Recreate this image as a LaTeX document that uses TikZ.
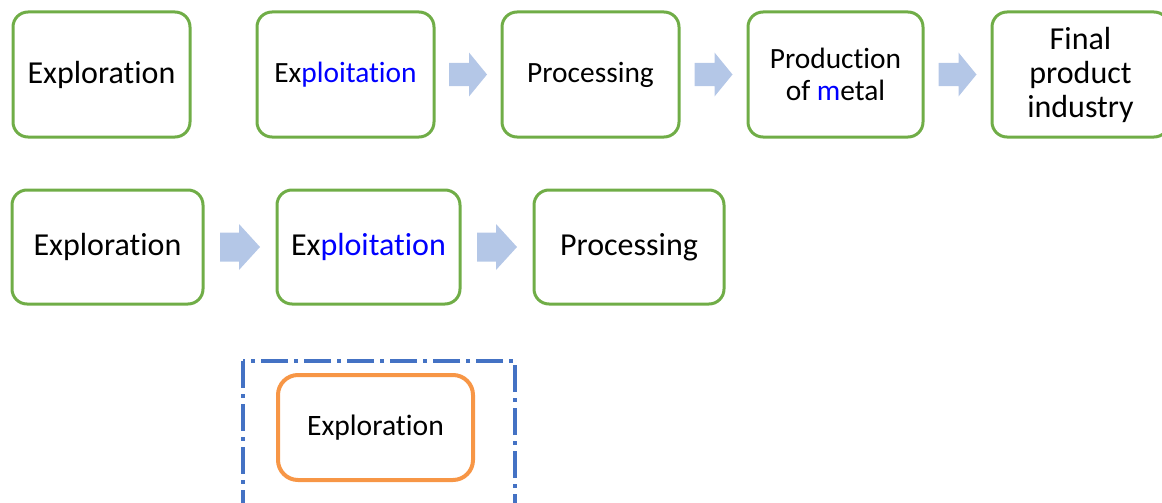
\documentclass[tikz,border=0pt]{standalone}
\usepackage{fontspec}
\setmainfont[Ligatures=NoCommon]{Carlito}
\usetikzlibrary{calc,positioning}
\definecolor{stagegreen}{HTML}{70AD47}
\definecolor{flowblue}{HTML}{B4C7E7}
\definecolor{frameblue}{HTML}{4472C4}
\definecolor{focusorange}{HTML}{F79646}

\begin{document}
\begin{tikzpicture}[x=1pt,y=-1pt,
        stage/.style={draw=stagegreen,line width=3pt,rounded corners=15pt,outer sep=0pt,
            minimum width=177pt,minimum height=125pt,align=center,
            font=\fontsize{29.4}{32}\selectfont},
        big/.style={font=\fontsize{32}{34}\selectfont},
        flow/.style={fill=flowblue},
        focus/.style={draw=focusorange,line width=4pt,rounded corners=20pt,outer sep=0pt,
            minimum width=195pt,minimum height=105pt,font=\fontsize{29.6}{32}\selectfont},
        frame/.style={draw=frameblue,line width=4pt,dash pattern=on 27pt off 6pt on 4pt off 6pt}]
    \useasboundingbox (0,0) rectangle (1162,503);
    % first row
    \node[stage,big] (e1) at (101.5,74.5) {Exploration};
    \node[stage,right=67pt of e1] (e2) {Ex{\color{blue}ploitation}};
    \node[stage,right=68pt of e2] (e3) {Processing};
    \node[stage,right=69pt of e3,minimum width=175pt] (e4) {Production\\of {\color{blue}m}etal};
    \node[stage,big,right=69pt of e4] (e5) {Final\\product\\industry};
    % second row
    \node[stage,big,minimum width=191pt,minimum height=114pt] (s1) at (107.5,247) {Exploration};
    \node[stage,big,minimum width=183pt,minimum height=114pt,right=74pt of s1] (s2) {Ex{\color{blue}ploitation}};
    \node[stage,big,minimum width=190pt,minimum height=114pt,right=74pt of s2] (s3) {Processing};
    % third row
    \node[focus] (f1) at (375.5,427.5) {Exploration};
    \draw[frame] ([xshift=-35pt,yshift=14pt]f1.north west) rectangle ([xshift=42pt,yshift=-40pt]f1.south east);
    % block arrows
    \foreach \a/\b in {e2/e3,e3/e4,e4/e5}
        \fill[flow] ($(\a.east)!0.5!(\b.west)$) ++(-19,-11.5) -- ++(20,0) -- ++(0,-10.5)
            -- ++(18,22) -- ++(-18,22) -- ++(0,-10.5) -- ++(-20,0) -- cycle;
    \foreach \a/\b in {s1/s2,s2/s3}
        \fill[flow] ($(\a.east)!0.5!(\b.west)$) ++(-20,-14.5) -- ++(19,0) -- ++(0,-8.5)
            -- ++(21,23) -- ++(-21,23) -- ++(0,-8.5) -- ++(-19,0) -- cycle;
\end{tikzpicture}
\end{document}
